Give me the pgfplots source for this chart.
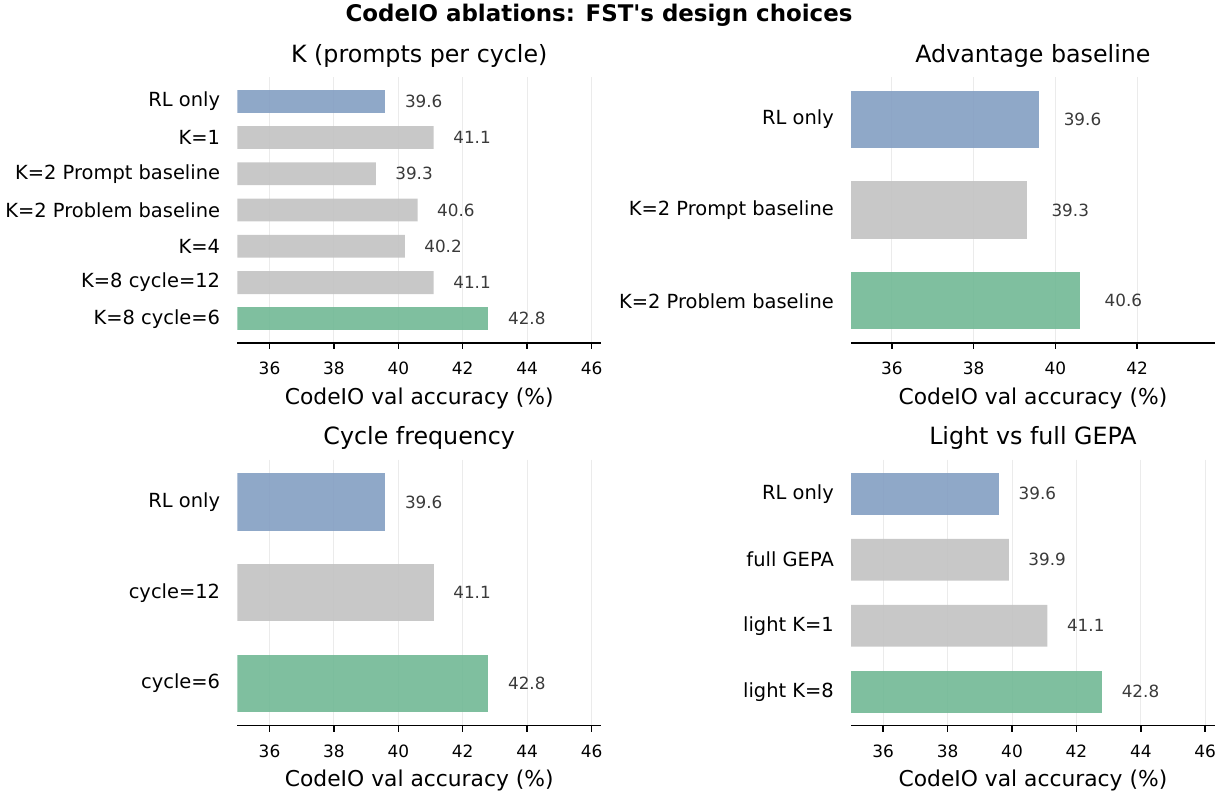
\documentclass[border=0pt]{standalone}
\usepackage{fontspec}
\setmainfont{DejaVu Sans}
\newfontfamily\titlefont{DejaVu Sans}
\usepackage{pgfplots}
\pgfplotsset{compat=1.18}
\definecolor{cblue}{HTML}{839EC2}
\definecolor{cgray}{HTML}{C2C2C2}
\definecolor{cgreen}{HTML}{71B895}
\definecolor{labgray}{HTML}{3A3A3A}
\definecolor{gridc}{HTML}{EBEBEB}
\pgfplotsset{
  abl/.style={
    scale only axis, width=262pt, height=191.5pt,
    xbar, bar shift=0pt, bar width=0.63,
    y dir=reverse,
    xmin=35,
    axis x line*=bottom, axis y line*=left,
    y axis line style={draw=none},
    x axis line style={-, line width=1.1pt},
    xmajorgrids, major grid style={color=gridc, line width=0.7pt},
    tick align=outside,
    major tick length=4.3pt,
    xtick style={line width=1.1pt, black},
    ytick style={draw=none},
    /pgf/number format/assume math mode=true,
    xticklabel style={font=\fontsize{12.2}{14}\selectfont, inner sep=0pt, anchor=base, yshift=-18.7pt},
    yticklabel style={font=\fontsize{14}{16}\selectfont, inner sep=0pt, anchor=east, xshift=-7.9pt},
    title style={at={(axis description cs:0.5,1)}, anchor=base, yshift=4.8pt, font=\fontsize{17.1}{20}\selectfont},
    xlabel={CodeIO val accuracy (\%)},
    xlabel style={at={(axis description cs:0.5,0)}, anchor=base, yshift=-44.1pt, font=\fontsize{15.7}{18}\selectfont},
    nodes near coords={\pgfmathprintnumber[fixed,fixed zerofill,precision=1]{\pgfplotspointmeta}},
    every node near coord/.append style={anchor=west, inner sep=0pt, text opacity=1, font=\fontsize{12.1}{14}\selectfont, text=labgray},
  },
  bblue/.style={fill=cblue, draw=none, fill opacity=0.9},
  bgray/.style={fill=cgray, draw=none, fill opacity=0.9},
  bgreen/.style={fill=cgreen, draw=none, fill opacity=0.9},
}
\begin{document}
\begin{tikzpicture}
\path[use as bounding box] (0,0) rectangle (882pt,573.84pt);
\node[anchor=base, font=\fontsize{16.5}{19}\selectfont\titlefont\bfseries] at (431.3pt,558.0pt) {CodeIO ablations: FST's design choices};

% Top-left
\begin{axis}[abl, at={(170.86pt,326.88pt)}, anchor=south west,
  title={K (prompts per cycle)},
  xmax=46.3, xtick={36,38,40,42,44,46},
  ymin=-0.665, ymax=6.665, ytick={0,1,2,3,4,5,6},
  yticklabels={{RL only},{K=1},{K=2 Prompt baseline},{K=2 Problem baseline},{K=4},{K=8 cycle=12},{K=8 cycle=6}},
  every node near coord/.append style={xshift=13.9pt}]
\addplot[bblue] coordinates {(39.6,0)};
\addplot[bgray] coordinates {(41.1,1) (39.3,2) (40.6,3) (40.2,4) (41.1,5)};
\addplot[bgreen] coordinates {(42.8,6)};
\end{axis}

% Top-right
\begin{axis}[abl, at={(612.72pt,326.88pt)}, anchor=south west,
  title={Advantage baseline},
  xmax=43.9, xtick={36,38,40,42},
  ymin=-0.465, ymax=2.465, ytick={0,1,2},
  yticklabels={{RL only},{K=2 Prompt baseline},{K=2 Problem baseline}},
  every node near coord/.append style={xshift=17.6pt}]
\addplot[bblue] coordinates {(39.6,0)};
\addplot[bgray] coordinates {(39.3,1)};
\addplot[bgreen] coordinates {(40.6,2)};
\end{axis}

% Bottom-left
\begin{axis}[abl, at={(170.86pt,51.34pt)}, anchor=south west,
  title={Cycle frequency},
  xmax=46.3, xtick={36,38,40,42,44,46},
  ymin=-0.465, ymax=2.465, ytick={0,1,2},
  yticklabels={{RL only},{cycle=12},{cycle=6}},
  every node near coord/.append style={xshift=13.9pt}]
\addplot[bblue] coordinates {(39.6,0)};
\addplot[bgray] coordinates {(41.1,1)};
\addplot[bgreen] coordinates {(42.8,2)};
\end{axis}

% Bottom-right
\begin{axis}[abl, at={(612.72pt,51.34pt)}, anchor=south west,
  title={Light vs full GEPA},
  xmax=46.3, xtick={36,38,40,42,44,46},
  ymin=-0.515, ymax=3.515, ytick={0,1,2,3},
  yticklabels={{RL only},{full GEPA},{light K=1},{light K=8}},
  every node near coord/.append style={xshift=13.9pt}]
\addplot[bblue] coordinates {(39.6,0)};
\addplot[bgray] coordinates {(39.9,1) (41.1,2)};
\addplot[bgreen] coordinates {(42.8,3)};
\end{axis}
\end{tikzpicture}
\end{document}
